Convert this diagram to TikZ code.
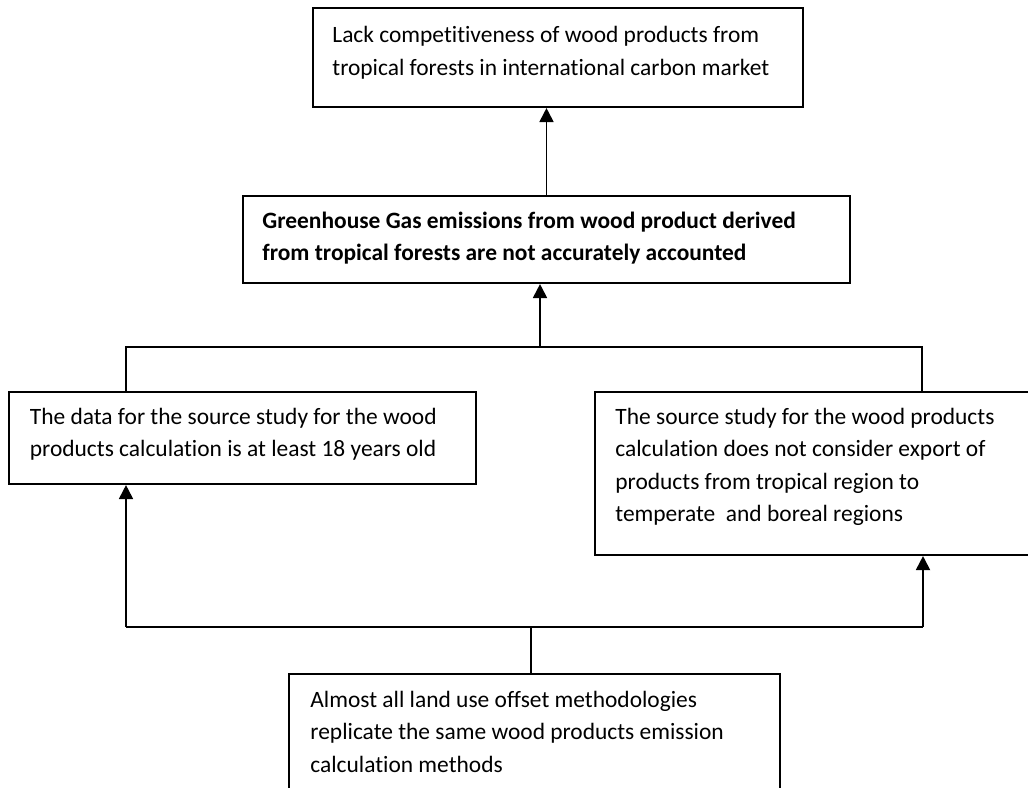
\documentclass[tikz,border=0pt]{standalone}
\usepackage{fontspec}
\setmainfont{Carlito}[Ligatures={NoCommon}]
\usetikzlibrary{arrows.meta}
\tikzset{
  box/.style={draw, line width=1pt, inner sep=0pt, fill=white},
  txt/.style={anchor=base west, inner sep=0pt},
  conn/.style={line width=0.9pt},
  arr/.style={line width=0.9pt, -{Triangle[width=6.7pt,length=6.7pt]}},
}
\newcommand{\boxtext}[1]{\parbox[t]{12cm}{\fontsize{11.25}{15.6}\selectfont #1}}
\begin{document}
\begin{tikzpicture}[x=0.48pt,y=-0.48pt]
\clip (0,0) rectangle (1028,787);
\fill[white] (0,0) rectangle (1028,787);
% boxes
\node[box, minimum width=490*0.48pt, minimum height=99*0.48pt] (top) at (558,57.5) {};
\node[box, minimum width=607*0.48pt, minimum height=87*0.48pt] (mid) at (546.5,239.5) {};
\node[box, minimum width=467*0.48pt, minimum height=92*0.48pt] (left) at (242.5,438) {};
\node[box, minimum width=440*0.48pt, minimum height=163*0.48pt] (right) at (815,473.5) {};
\node[box, minimum width=491*0.48pt, minimum height=126*0.48pt] (bot) at (534.5,737) {};
% texts
\node[txt] (ttop) at (332,42.5) {\boxtext{Lack competitiveness of wood products from\\tropical forests in international carbon market}};
\node[txt] (tmid) at (262,228) {\boxtext{\bfseries Greenhouse Gas emissions from wood product derived\\from tropical forests are not accurately accounted}};
\node[txt] (tleft) at (29.5,424) {\boxtext{The data for the source study for the wood\\products calculation is at least 18 years old}};
\node[txt] (tright) at (615,424) {\boxtext{The source study for the wood products\\calculation does not consider export of\\products from tropical region to\\temperate\ \ and boreal regions}};
\node[txt] (tbot) at (310,707) {\boxtext{Almost all land use offset methodologies\\replicate the same wood products emission\\calculation methods}};
% connectors
\coordinate (j1) at (540,347);
\coordinate (hl) at (126,347);
\coordinate (hr) at (922,347);
\coordinate (bj) at (531,627);
\coordinate (bl) at (126,627);
\coordinate (br) at (923,627);
\draw[arr] (mid.north) -- (mid.north |- top.south);
\draw[arr] (j1) -- (j1 |- mid.south);
\draw[conn, line width=1.1pt] (hl |- left.north) -- (hl) -- (hr) -- (hr |- right.north);
\draw[conn] (bot.north -| bj) -- (bj);
\draw[conn, line width=1.1pt] (bl) -- (br);
\draw[arr] (bl) -- (bl |- left.south);
\draw[arr] (br) -- (br |- right.south);
\end{tikzpicture}
\end{document}
